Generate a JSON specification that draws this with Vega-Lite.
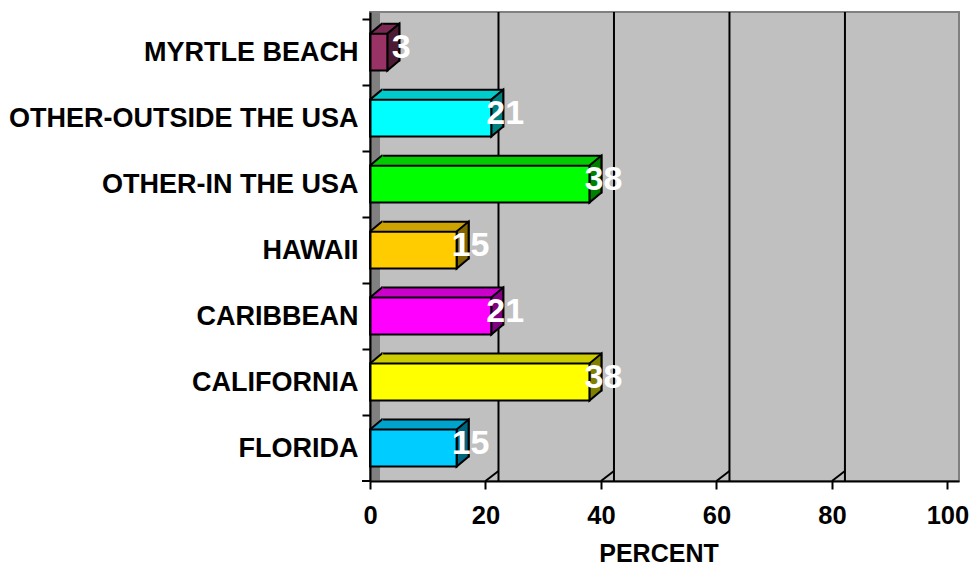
{
  "$schema": "https://vega.github.io/schema/vega-lite/v6.json",
  "width": 589,
  "height": 469,
  "autosize": {"type": "none"},
  "padding": {"left": 370, "top": 12, "right": 15, "bottom": 88},
  "background": "white",
  "config": {
    "font": "Liberation Sans",
    "view": {"fill": "#C0C0C0", "stroke": "#808080", "strokeWidth": 2}
  },
  "datasets": {
    "trips": [
      {"cat": "MYRTLE BEACH", "value": 3},
      {"cat": "OTHER-OUTSIDE THE USA", "value": 21},
      {"cat": "OTHER-IN THE USA", "value": 38},
      {"cat": "HAWAII", "value": 15},
      {"cat": "CARIBBEAN", "value": 21},
      {"cat": "CALIFORNIA", "value": 38},
      {"cat": "FLORIDA", "value": 15}
    ],
    "grid": [{"value": 20}, {"value": 40}, {"value": 60}, {"value": 80}],
    "one": [{"value": 0}]
  },
  "layer": [
    {
      "data": {"name": "one"},
      "mark": {"type": "rule", "color": "#808080", "strokeWidth": 10, "xOffset": 5},
      "encoding": {
        "x": {"field": "value", "type": "quantitative", "scale": {"domain": [0, 102], "nice": false},
          "axis": {"values": [0, 20, 40, 60, 80, 100], "format": "d", "grid": false, "title": "PERCENT", "titleFontSize": 25, "titleFontWeight": "bold", "titleColor": "black", "titlePadding": 13, "titleX": 288.5, "titleAlign": "center", "labelFontSize": 25.5, "labelFontWeight": "bold", "labelColor": "black", "labelPadding": 14, "labelFlush": false, "labelOverlap": false, "tickSize": 8, "tickColor": "black", "tickWidth": 2, "domainColor": "black", "domainWidth": 2, "zindex": 1}}
      }
    },
    {
      "data": {"name": "grid"},
      "mark": {"type": "rule", "color": "black", "strokeWidth": 2, "xOffset": 13, "y2Offset": -10},
      "encoding": {
        "x": {"field": "value", "type": "quantitative", "scale": {"domain": [0, 102], "nice": false},
          "axis": {"values": [0, 20, 40, 60, 80, 100], "format": "d", "grid": false, "title": "PERCENT", "titleFontSize": 25, "titleFontWeight": "bold", "titleColor": "black", "titlePadding": 13, "titleX": 288.5, "titleAlign": "center", "labelFontSize": 25.5, "labelFontWeight": "bold", "labelColor": "black", "labelPadding": 14, "labelFlush": false, "labelOverlap": false, "tickSize": 8, "tickColor": "black", "tickWidth": 2, "domainColor": "black", "domainWidth": 2, "zindex": 1}}
      }
    },
    {
      "data": {"name": "grid"},
      "mark": {"type": "point", "shape": "M0,234.5L13,224.5", "size": 4, "filled": false, "opacity": 1, "stroke": "black", "strokeWidth": 2},
      "encoding": {
        "x": {"field": "value", "type": "quantitative", "scale": {"domain": [0, 102], "nice": false},
          "axis": {"values": [0, 20, 40, 60, 80, 100], "format": "d", "grid": false, "title": "PERCENT", "titleFontSize": 25, "titleFontWeight": "bold", "titleColor": "black", "titlePadding": 13, "titleX": 288.5, "titleAlign": "center", "labelFontSize": 25.5, "labelFontWeight": "bold", "labelColor": "black", "labelPadding": 14, "labelFlush": false, "labelOverlap": false, "tickSize": 8, "tickColor": "black", "tickWidth": 2, "domainColor": "black", "domainWidth": 2, "zindex": 1}}
      }
    },
    {
      "data": {"name": "one"},
      "mark": {"type": "point", "shape": "M-8,234.5L0,234.5", "size": 4, "filled": false, "opacity": 1, "stroke": "black", "strokeWidth": 2},
      "encoding": {
        "x": {"field": "value", "type": "quantitative", "scale": {"domain": [0, 102], "nice": false},
          "axis": {"values": [0, 20, 40, 60, 80, 100], "format": "d", "grid": false, "title": "PERCENT", "titleFontSize": 25, "titleFontWeight": "bold", "titleColor": "black", "titlePadding": 13, "titleX": 288.5, "titleAlign": "center", "labelFontSize": 25.5, "labelFontWeight": "bold", "labelColor": "black", "labelPadding": 14, "labelFlush": false, "labelOverlap": false, "tickSize": 8, "tickColor": "black", "tickWidth": 2, "domainColor": "black", "domainWidth": 2, "zindex": 1}}
      }
    },
    {
      "data": {"name": "trips"},
      "encoding": {
        "y": {
          "field": "cat", "type": "nominal", "sort": null,
          "scale": {"paddingInner": 0.44, "paddingOuter": 0.2731, "align": 0.6, "round": false},
          "axis": {
            "title": null, "labelFontSize": 27, "labelFontWeight": "bold", "labelColor": "black",
            "labelPadding": 4, "labelLimit": 400, "tickSize": 8, "tickColor": "black", "tickWidth": 2,
            "domainColor": "black", "domainWidth": 2, "tickOffset": -33, "labelOffset": 33, "zindex": 1
          }
        }
      },
      "layer": [
        {
          "mark": {"type": "bar", "stroke": "black", "strokeWidth": 2, "xOffset": 12, "x2Offset": 12, "yOffset": -10, "y2Offset": -10},
          "encoding": {
            "x": {"field": "value", "type": "quantitative", "scale": {"domain": [0, 102], "nice": false},
              "axis": {"values": [0, 20, 40, 60, 80, 100], "format": "d", "grid": false, "title": "PERCENT", "titleFontSize": 25, "titleFontWeight": "bold", "titleColor": "black", "titlePadding": 13, "titleX": 288.5, "titleAlign": "center", "labelFontSize": 25.5, "labelFontWeight": "bold", "labelColor": "black", "labelPadding": 14, "labelFlush": false, "labelOverlap": false, "tickSize": 8, "tickColor": "black", "tickWidth": 2, "domainColor": "black", "domainWidth": 2, "zindex": 1}},
            "color": {
              "field": "cat", "type": "nominal", "legend": null,
              "scale": {
                "domain": ["MYRTLE BEACH", "OTHER-OUTSIDE THE USA", "OTHER-IN THE USA", "HAWAII", "CARIBBEAN", "CALIFORNIA", "FLORIDA"],
                "range": ["#7A2952", "#00CCCC", "#00CC00", "#CCA300", "#CC00CC", "#CCCC00", "#00A3CC"]
              }
            }
          }
        },
        {
          "mark": {"type": "point", "shape": "M0,-18.5L12,-28.5L12,8.5L0,18.5Z", "size": 4, "filled": true, "opacity": 1, "stroke": "black", "strokeWidth": 2},
          "encoding": {
            "x": {"field": "value", "type": "quantitative", "scale": {"domain": [0, 102], "nice": false},
              "axis": {"values": [0, 20, 40, 60, 80, 100], "format": "d", "grid": false, "title": "PERCENT", "titleFontSize": 25, "titleFontWeight": "bold", "titleColor": "black", "titlePadding": 13, "titleX": 288.5, "titleAlign": "center", "labelFontSize": 25.5, "labelFontWeight": "bold", "labelColor": "black", "labelPadding": 14, "labelFlush": false, "labelOverlap": false, "tickSize": 8, "tickColor": "black", "tickWidth": 2, "domainColor": "black", "domainWidth": 2, "zindex": 1}},
            "color": {
              "field": "cat", "type": "nominal", "legend": null,
              "scale": {
                "domain": ["MYRTLE BEACH", "OTHER-OUTSIDE THE USA", "OTHER-IN THE USA", "HAWAII", "CARIBBEAN", "CALIFORNIA", "FLORIDA"],
                "range": ["#4D1A33", "#008080", "#008000", "#806600", "#800080", "#808000", "#006680"]
              }
            }
          }
        },
        {
          "mark": {"type": "point", "shape": "M0,-18.5L12,-28.5L13.2,-28.5L13.2,-18.5Z", "size": 4, "filled": true, "opacity": 1, "strokeWidth": 0},
          "encoding": {
            "x": {"datum": 0, "type": "quantitative", "scale": {"domain": [0, 102], "nice": false},
              "axis": {"values": [0, 20, 40, 60, 80, 100], "format": "d", "grid": false, "title": "PERCENT", "titleFontSize": 25, "titleFontWeight": "bold", "titleColor": "black", "titlePadding": 13, "titleX": 288.5, "titleAlign": "center", "labelFontSize": 25.5, "labelFontWeight": "bold", "labelColor": "black", "labelPadding": 14, "labelFlush": false, "labelOverlap": false, "tickSize": 8, "tickColor": "black", "tickWidth": 2, "domainColor": "black", "domainWidth": 2, "zindex": 1}},
            "color": {
              "field": "cat", "type": "nominal", "legend": null,
              "scale": {
                "domain": ["MYRTLE BEACH", "OTHER-OUTSIDE THE USA", "OTHER-IN THE USA", "HAWAII", "CARIBBEAN", "CALIFORNIA", "FLORIDA"],
                "range": ["#7A2952", "#00CCCC", "#00CC00", "#CCA300", "#CC00CC", "#CCCC00", "#00A3CC"]
              }
            }
          }
        },
        {
          "mark": {"type": "point", "shape": "M0,-18.5L12,-28.5", "size": 4, "filled": false, "opacity": 1, "stroke": "black", "strokeWidth": 2},
          "encoding": {
            "x": {"datum": 0, "type": "quantitative", "scale": {"domain": [0, 102], "nice": false},
              "axis": {"values": [0, 20, 40, 60, 80, 100], "format": "d", "grid": false, "title": "PERCENT", "titleFontSize": 25, "titleFontWeight": "bold", "titleColor": "black", "titlePadding": 13, "titleX": 288.5, "titleAlign": "center", "labelFontSize": 25.5, "labelFontWeight": "bold", "labelColor": "black", "labelPadding": 14, "labelFlush": false, "labelOverlap": false, "tickSize": 8, "tickColor": "black", "tickWidth": 2, "domainColor": "black", "domainWidth": 2, "zindex": 1}}
          }
        },
        {
          "mark": {"type": "bar", "stroke": "black", "strokeWidth": 2},
          "encoding": {
            "x": {"field": "value", "type": "quantitative", "scale": {"domain": [0, 102], "nice": false},
              "axis": {"values": [0, 20, 40, 60, 80, 100], "format": "d", "grid": false, "title": "PERCENT", "titleFontSize": 25, "titleFontWeight": "bold", "titleColor": "black", "titlePadding": 13, "titleX": 288.5, "titleAlign": "center", "labelFontSize": 25.5, "labelFontWeight": "bold", "labelColor": "black", "labelPadding": 14, "labelFlush": false, "labelOverlap": false, "tickSize": 8, "tickColor": "black", "tickWidth": 2, "domainColor": "black", "domainWidth": 2, "zindex": 1}},
            "color": {
              "field": "cat", "type": "nominal", "legend": null,
              "scale": {
                "domain": ["MYRTLE BEACH", "OTHER-OUTSIDE THE USA", "OTHER-IN THE USA", "HAWAII", "CARIBBEAN", "CALIFORNIA", "FLORIDA"],
                "range": ["#993366", "#00FFFF", "#00FF00", "#FFCC00", "#FF00FF", "#FFFF00", "#00CCFF"]
              }
            }
          }
        },
        {
          "mark": {"type": "text", "color": "white", "fontSize": 34, "fontWeight": "bold", "align": "center", "baseline": "middle", "dx": 14, "dy": -4},
          "encoding": {
            "x": {"field": "value", "type": "quantitative", "scale": {"domain": [0, 102], "nice": false},
              "axis": {"values": [0, 20, 40, 60, 80, 100], "format": "d", "grid": false, "title": "PERCENT", "titleFontSize": 25, "titleFontWeight": "bold", "titleColor": "black", "titlePadding": 13, "titleX": 288.5, "titleAlign": "center", "labelFontSize": 25.5, "labelFontWeight": "bold", "labelColor": "black", "labelPadding": 14, "labelFlush": false, "labelOverlap": false, "tickSize": 8, "tickColor": "black", "tickWidth": 2, "domainColor": "black", "domainWidth": 2, "zindex": 1}},
            "text": {"field": "value", "type": "quantitative"}
          }
        }
      ],
      "resolve": {"scale": {"color": "independent"}}
    }
  ],
  "resolve": {"scale": {"y": "independent"}}
}
